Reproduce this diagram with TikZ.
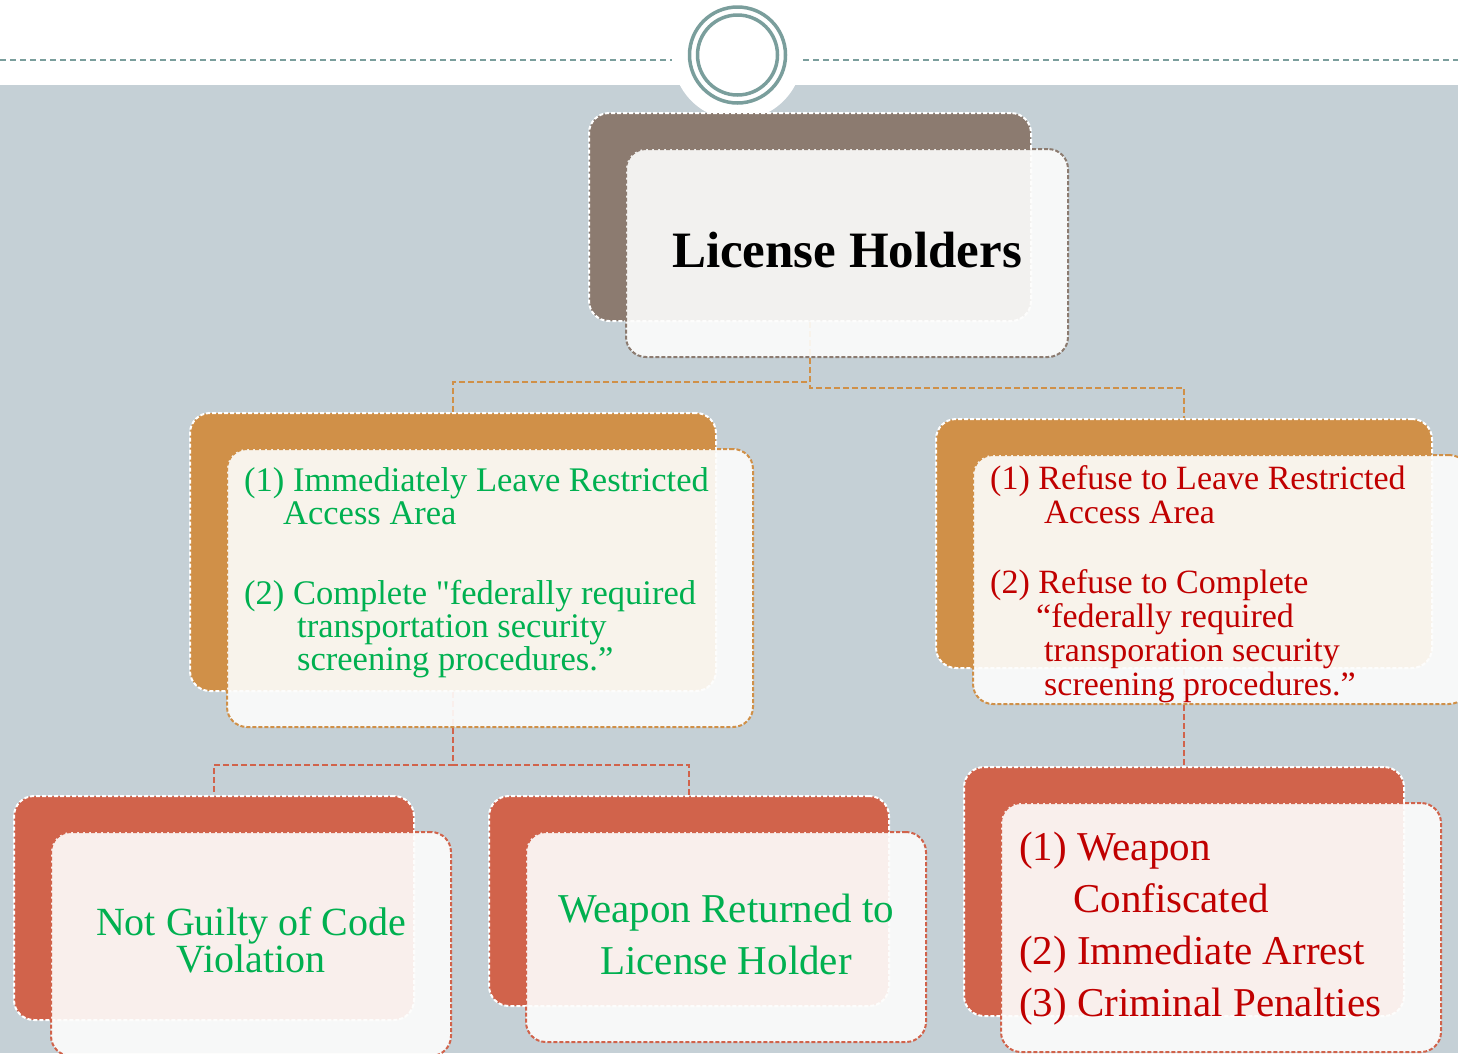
\documentclass[tikz,border=0pt]{standalone}
\usepackage{fontspec}
\setmainfont{Liberation Serif}[Ligatures=TeXOff]
\usetikzlibrary{positioning,backgrounds}
\definecolor{slate}{HTML}{C5D0D6}
\definecolor{ringteal}{HTML}{7A9E9C}
\definecolor{taupe}{HTML}{8C7B70}
\definecolor{tan}{HTML}{D09048}
\definecolor{brick}{HTML}{D1634B}
\definecolor{okgreen}{HTML}{00B050}
\definecolor{badred}{HTML}{C00000}
\definecolor{paper}{HTML}{FDFDFC}
\tikzset{
  backbox/.style={draw=white,fill=#1,dash pattern=on 4pt off 2pt,line width=2pt,rounded corners=20pt,inner sep=0pt},
  frontbox/.style={draw=#1,fill=paper,fill opacity=.91,dash pattern=on 4pt off 2pt,line width=2pt,rounded corners=20pt,inner sep=0pt},
  link/.style={draw=#1,dash pattern=on 6pt off 3pt,line width=2.2pt},
  itemtext/.style={inner sep=0pt,align=left,anchor=north west,text=#1},
}
\begin{document}
\begin{tikzpicture}[x=1pt,y=-1pt]
\useasboundingbox (0,0) rectangle (1458,1053);
\clip (0,0) rectangle (1458,1053);
\draw[ringteal,line width=1.5pt,dash pattern=on 6pt off 4pt] (0,60) -- (672,60);
\draw[ringteal,line width=1.5pt,dash pattern=on 6pt off 4pt] (803,60) -- (1458,60);
\node[circle,draw=ringteal,line width=3.5pt,minimum size=96pt,inner sep=0pt] (badge) at (737.5,55) {};
\node[circle,draw=ringteal,line width=3.5pt,minimum size=80pt,inner sep=0pt] (badgein) at (badge.center) {};

% top level
\node[backbox=taupe,minimum width=442pt,minimum height=208pt] (holdersB) at (810,217) {};
\node[frontbox=taupe,minimum width=442pt,minimum height=208pt] (holders) at ([shift={(37,36)}]holdersB.center) {};
\node[font=\bfseries\fontsize{51}{60}\selectfont] (holdersT) at ([shift={(0,-3)}]holders.center) {License Holders};

% second level
\node[backbox=tan,minimum width=526pt,minimum height=278pt] (leaveB) at (453,552) {};
\node[frontbox=tan,minimum width=526pt,minimum height=278pt] (leave) at ([shift={(37,36)}]leaveB.center) {};
\node[itemtext=okgreen,font=\fontsize{34.5}{33}\selectfont] (leaveT) at ([shift={(18,19)}]leave.north west)
  {(1) Immediately Leave Restricted\\
   \hspace*{39pt}Access Area\\[47pt]
   (2) Complete "federally required\\
   \hspace*{53pt}transportation security\\
   \hspace*{53pt}screening procedures.”};

\node[backbox=tan,minimum width=496pt,minimum height=249pt] (refuseB) at (1184,543.5) {};
\node[frontbox=tan,minimum width=496pt,minimum height=249pt] (refuse) at ([shift={(37,36)}]refuseB.center) {};
\node[itemtext=badred,font=\fontsize{34}{34}\selectfont] (refuseT) at ([shift={(18,11)}]refuse.north west)
  {(1) Refuse to Leave Restricted\\
   \hspace*{54pt}Access Area\\[36pt]
   (2) Refuse to Complete\\
   \hspace*{46pt}“federally required\\
   \hspace*{54pt}transporation security\\
   \hspace*{54pt}screening procedures.”};

% third level
\node[backbox=brick,minimum width=400pt,minimum height=224pt] (guiltB) at (214,908) {};
\node[frontbox=brick,minimum width=400pt,minimum height=224pt] (guilt) at ([shift={(37,36)}]guiltB.center) {};
\node[align=center,text=okgreen,font=\fontsize{40}{37}\selectfont] (guiltT) at (251,940) {Not Guilty of Code\\Violation};

\node[backbox=brick,minimum width=400pt,minimum height=210pt] (returnB) at (689,901) {};
\node[frontbox=brick,minimum width=400pt,minimum height=210pt] (return) at ([shift={(37,36)}]returnB.center) {};
\node[align=center,text=okgreen,font=\fontsize{41}{52}\selectfont] (returnT) at (726,934) {Weapon Returned to\\License Holder};

\node[backbox=brick,minimum width=440pt,minimum height=249pt] (arrestB) at (1184,891.5) {};
\node[frontbox=brick,minimum width=440pt,minimum height=249pt] (arrest) at ([shift={(37,36)}]arrestB.center) {};
\node[itemtext=badred,font=\fontsize{41}{52}\selectfont] (arrestT) at ([shift={(19,30)}]arrest.north west)
  {(1) Weapon\\
   \hspace*{54pt}Confiscated\\
   (2) Immediate Arrest\\
   (3) Criminal Penalties};

% header and connectors behind the boxes
\begin{scope}[on background layer]
\fill[white] (0,0) rectangle (1458,85);
\fill[slate] (0,85) rectangle (1458,1053);
\fill[white] (737.5,55) circle[radius=65];
\draw[link=tan] (holdersB.south) -- ++(0,60) -| (leaveB.north);
\draw[link=tan] (holdersB.south) -- ++(0,66) -| (refuseB.north);
\draw[link=brick] (leaveB.south) -- ++(0,73) -| (guiltB.north);
\draw[link=brick] (leaveB.south) -- ++(0,73) -| (returnB.north);
\draw[link=brick] (refuseB.south) -- (arrestB.north);
\end{scope}
\end{tikzpicture}
\end{document}
